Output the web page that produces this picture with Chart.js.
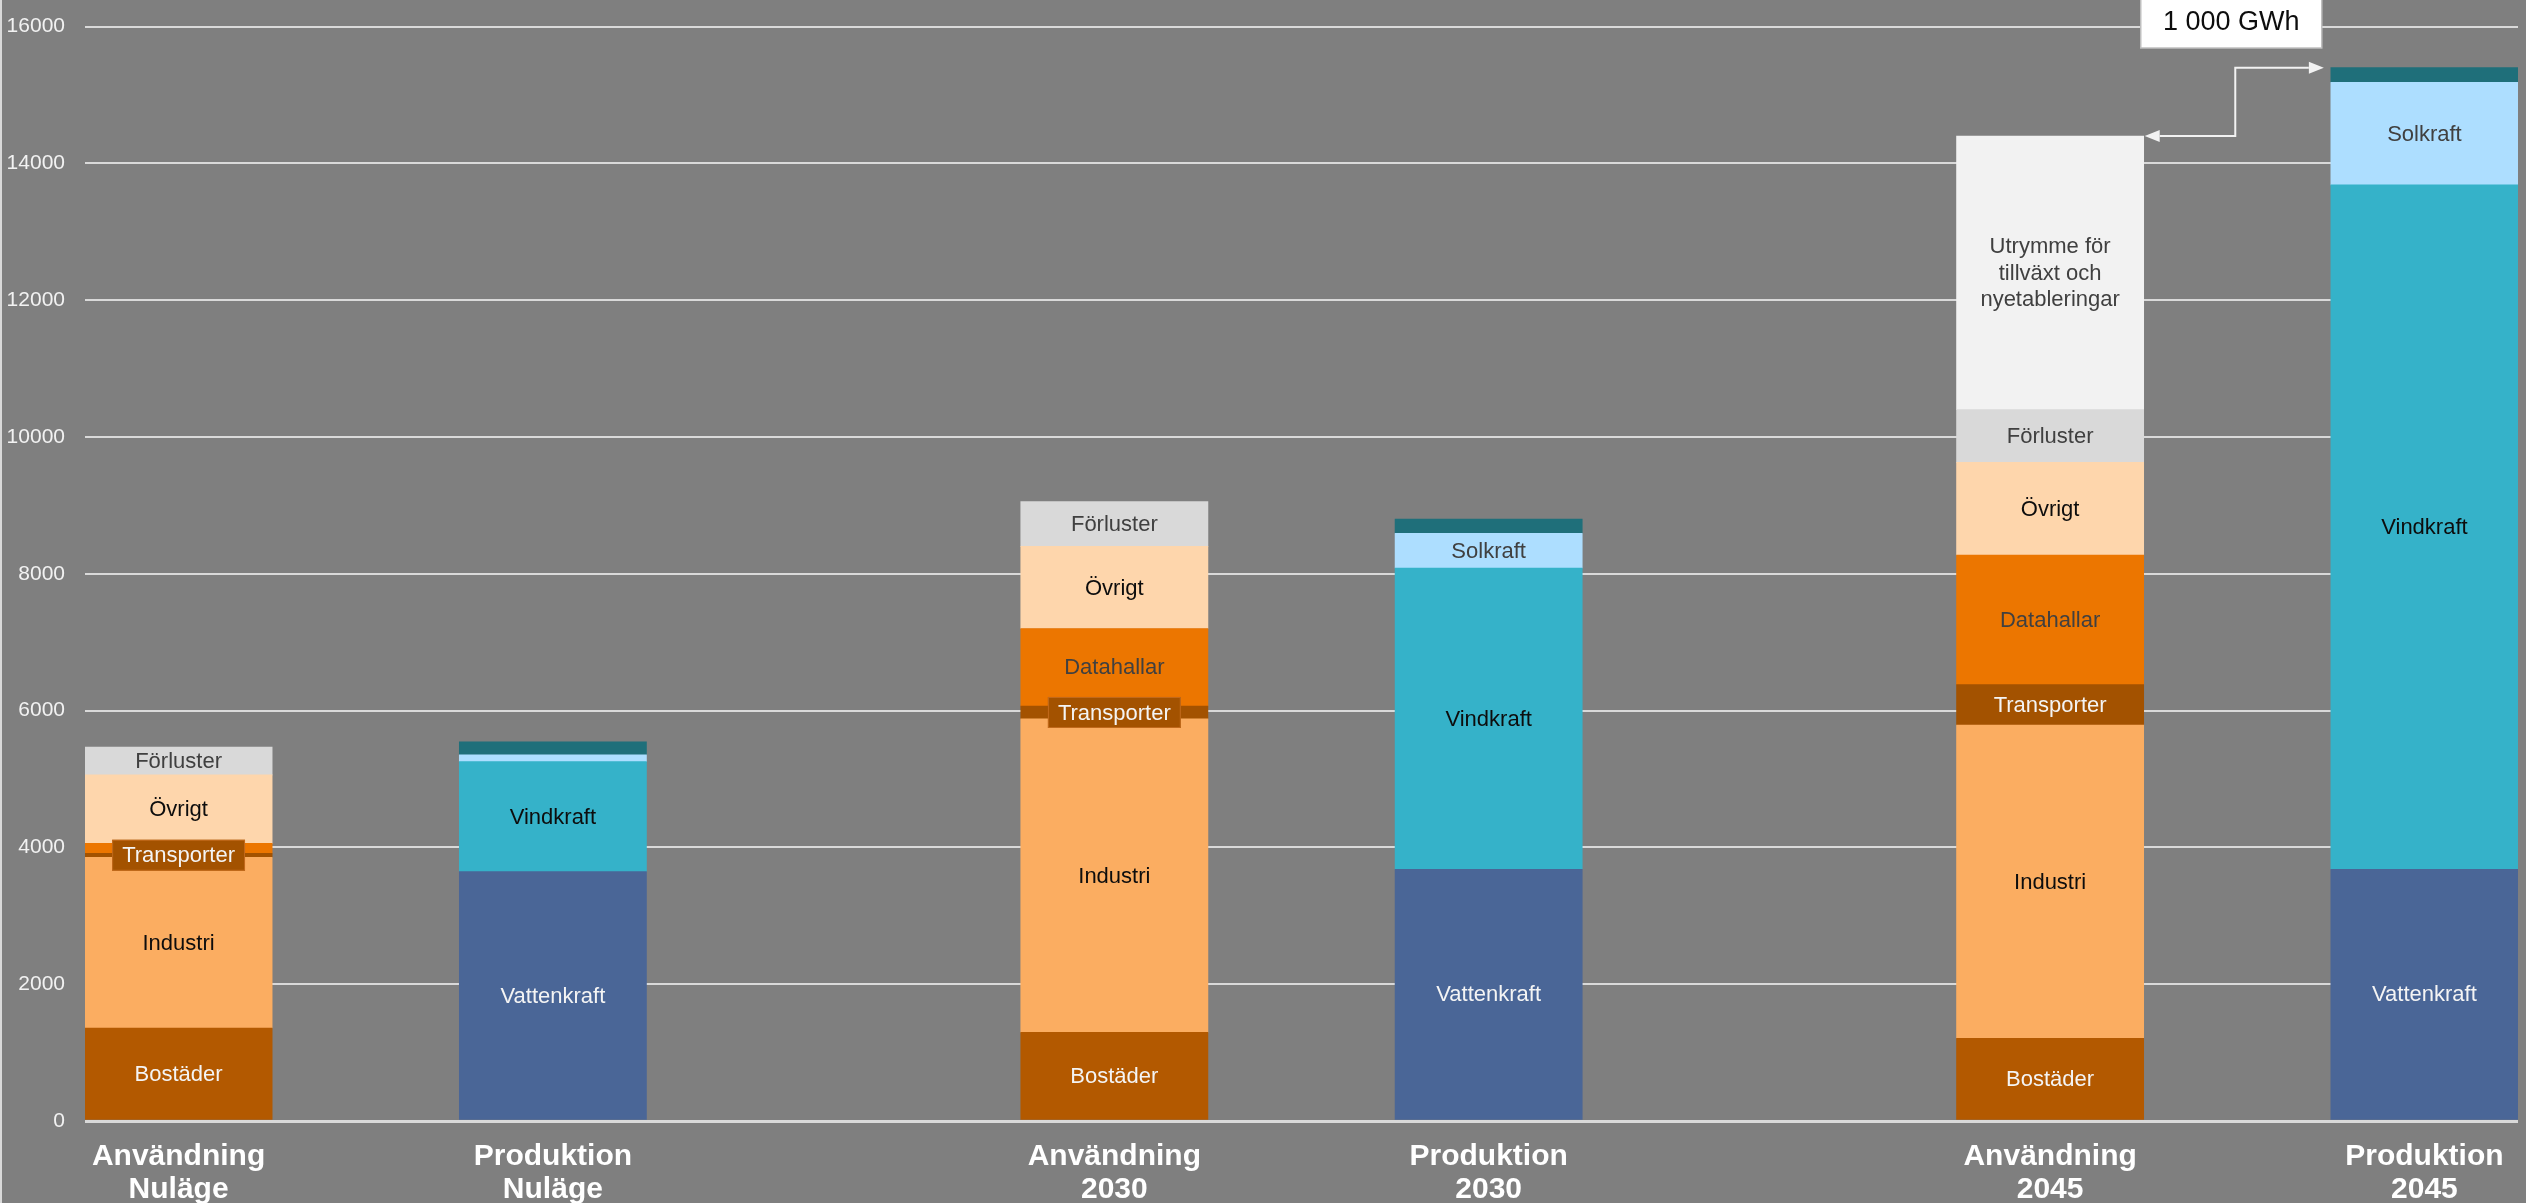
<!DOCTYPE html>
<html lang="sv">
<head>
<meta charset="utf-8">
<title>Elanvändning och elproduktion</title>
<script src="https://cdn.jsdelivr.net/npm/chart.js@4.4.1/dist/chart.umd.min.js"></script>
<style>
    html, body { margin: 0; padding: 0; background: #7f7f7f; overflow: hidden; }
    canvas { display: block; }
</style>
</head>
<body>
<canvas id="elChart" width="2526" height="1203"></canvas>
<script>
// Staplar: användning och produktion (GWh)
const categories = [
    ["Användning", "Nuläge"],
    ["Produktion", "Nuläge"],
    ["Användning", "2030"],
    ["Produktion", "2030"],
    ["Användning", "2045"],
    ["Produktion", "2045"],
];

// Användning
const bostader = [1360, null, 1295, null, 1210, null];
const industri = [2495, null, 4585, null, 4580, null];
const transporter = [60, null, 185, null, 590, null];
const datahallar = [145, null, 1135, null, 1895, null];
const ovrigt = [1000, null, 1200, null, 1355, null];
const forluster = [405, null, 655, null, 770, null];
const utrymme = [null, null, null, null, 4000, null];

// Produktion
const vattenkraft = [null, 3645, null, 3680, null, 3680];
const vindkraft = [null, 1610, null, 4405, null, 10005];
const solkraft = [null, 100, null, 505, null, 1500];
const ovrigProduktion = [null, 190, null, 210, null, 215];

const yTicks = [0, 2000, 4000, 6000, 8000, 10000, 12000, 14000, 16000];

// platser på x-axeln (tomma platser ger mellanrummen)
const slots = [0, 2, 5, 7, 10, 12];
const slotCount = 13;

const FONT = "'Liberation Sans', Arial, Helvetica, sans-serif";

function spread(values) {
    const out = new Array(slotCount).fill(null);
    values.forEach((v, i) => { out[slots[i]] = v; });
    return out;
}

const xLabels = spread(categories).map(l => l || "");

function series(label, values, color, text, textColor, extra) {
    return Object.assign({
        label: label,
        data: spread(values),
        backgroundColor: color,
        borderWidth: 0,
        text: text,
        textColor: textColor,
    }, extra || {});
}

const datasets = [
    series("Bostäder", bostader, "#b35900", "Bostäder", "#f4f4f4"),
    series("Industri", industri, "#fbad61", "Industri", "#0d0d0d"),
    series("Transporter", transporter, "#a35200", "Transporter", "#f4f4f4", { boxed: true }),
    series("Datahallar", datahallar, "#ec7600", "Datahallar", "#404040"),
    series("Övrigt", ovrigt, "#fed6ac", "Övrigt", "#0d0d0d"),
    series("Förluster", forluster, "#d9d9d9", "Förluster", "#404040"),
    series("Utrymme", utrymme, "#f2f2f2", "Utrymme för\ntillväxt och\nnyetableringar", "#404040"),
    series("Vattenkraft", vattenkraft, "#4a6697", "Vattenkraft", "#f4f4f4"),
    series("Vindkraft", vindkraft, "#35b2c9", "Vindkraft", "#0d0d0d"),
    series("Solkraft", solkraft, "#addeff", "Solkraft", "#404040"),
    series("Övrig produktion", ovrigProduktion, "#1f6f7a", null, null),
];

const useSeries = [bostader, industri, transporter, datahallar, ovrigt, forluster, utrymme];
const prodSeries = [vattenkraft, vindkraft, solkraft, ovrigProduktion];

function total(list, i) {
    return list.reduce((s, arr) => s + (arr[i] || 0), 0);
}

// Bakgrund och vänsterkant
const backdrop = {
    id: "backdrop",
    beforeDraw(chart) {
        const ctx = chart.ctx;
        ctx.save();
        ctx.fillStyle = "#7f7f7f";
        ctx.fillRect(0, 0, chart.width, chart.height);
        ctx.fillStyle = "#d9d9d9";
        ctx.fillRect(0, 0, 2, chart.height);
        ctx.restore();
    }
};

// Texter i staplarna
const segmentLabels = {
    id: "segmentLabels",
    afterDatasetsDraw(chart) {
        const ctx = chart.ctx;
        ctx.save();
        ctx.font = "22px " + FONT;
        ctx.textAlign = "center";
        ctx.textBaseline = "middle";
        chart.data.datasets.forEach((ds, i) => {
            if (!ds.text) return;
            const meta = chart.getDatasetMeta(i);
            meta.data.forEach((bar, j) => {
                if (!ds.data[j]) return;
                const h = bar.base - bar.y;
                const cy = (bar.base + bar.y) / 2;
                const lines = ds.text.split("\n");

                if (ds.boxed && h < 32) {
                    const w = ctx.measureText(ds.text).width + 20;
                    ctx.fillStyle = ds.backgroundColor;
                    ctx.fillRect(bar.x - w / 2, cy - 15.5, w, 31);
                    ctx.strokeStyle = "#c26a1c";
                    ctx.lineWidth = 1;
                    ctx.strokeRect(bar.x - w / 2 + 0.5, cy - 15, w - 1, 30);
                } else if (h < 20) {
                    return;
                }

                ctx.fillStyle = ds.textColor;
                const lh = 26.5;
                lines.forEach((line, k) => {
                    ctx.fillText(line, bar.x, cy + (k - (lines.length - 1) / 2) * lh + 1);
                });
            });
        });
        ctx.restore();
    }
};

// Pil mellan användning och produktion 2045
const gapArrow = {
    id: "gapArrow",
    afterDraw(chart) {
        const ctx = chart.ctx;
        const ys = chart.scales.y;
        const useBar = chart.getDatasetMeta(0).data[slots[4]];
        const prodBar = chart.getDatasetMeta(7).data[slots[5]];
        const useTotal = total(useSeries, 4);
        const prodTotal = total(prodSeries, 5);
        const gap = prodTotal - useTotal;

        const x1 = useBar.x + useBar.width / 2 + 1;
        const x2 = prodBar.x - prodBar.width / 2 - 7;
        const xm = (x1 + x2) / 2 + 1;
        const y1 = ys.getPixelForValue(useTotal);
        const y2 = ys.getPixelForValue(prodTotal);
        const head = 15;

        ctx.save();
        ctx.strokeStyle = "#f2f2f2";
        ctx.fillStyle = "#f2f2f2";
        ctx.lineWidth = 2;
        ctx.beginPath();
        ctx.moveTo(x1 + head, y1);
        ctx.lineTo(xm, y1);
        ctx.lineTo(xm, y2);
        ctx.lineTo(x2 - head, y2);
        ctx.stroke();

        ctx.beginPath();
        ctx.moveTo(x1, y1);
        ctx.lineTo(x1 + head, y1 - 6);
        ctx.lineTo(x1 + head, y1 + 6);
        ctx.closePath();
        ctx.fill();

        ctx.beginPath();
        ctx.moveTo(x2, y2);
        ctx.lineTo(x2 - head, y2 - 6);
        ctx.lineTo(x2 - head, y2 + 6);
        ctx.closePath();
        ctx.fill();

        // rutan med skillnaden
        const text = String(gap).replace(/\B(?=(\d{3})+(?!\d))/g, " ") + " GWh";
        const bw = 181, bh = 50;
        const bx = xm - 4 - bw / 2;
        ctx.fillStyle = "#ffffff";
        ctx.fillRect(bx, -2, bw, bh);
        ctx.strokeStyle = "#bfbfbf";
        ctx.lineWidth = 1.5;
        ctx.strokeRect(bx, -2, bw, bh);
        ctx.fillStyle = "#0d0d0d";
        ctx.font = "27px " + FONT;
        ctx.textAlign = "center";
        ctx.textBaseline = "middle";
        ctx.fillText(text, bx + bw / 2, 23);
        ctx.restore();
    }
};

Chart.defaults.font.family = FONT;

new Chart(document.getElementById("elChart"), {
    type: "bar",
    data: {
        labels: xLabels,
        datasets: datasets,
    },
    options: {
        responsive: false,
        devicePixelRatio: 1,
        animation: false,
        events: [],
        layout: {
            padding: { top: 0, right: 8, left: 0, bottom: 0 },
        },
        datasets: {
            bar: {
                categoryPercentage: 1.0,
                barPercentage: 1.0,
                skipNull: true,
            },
        },
        plugins: {
            legend: { display: false },
            tooltip: { enabled: false },
        },
        scales: {
            x: {
                stacked: true,
                grid: { display: false },
                border: { display: false },
                afterFit: (scale) => {
                    scale.height = 82;
                },
                ticks: {
                    autoSkip: false,
                    maxRotation: 0,
                    padding: 11,
                    color: "#ffffff",
                    font: { size: 30, weight: "bold", lineHeight: 1.1 },
                },
            },
            y: {
                stacked: true,
                min: 0,
                max: 16000,
                afterBuildTicks: (scale) => {
                    scale.ticks = yTicks.map(v => ({ value: v }));
                },
                afterFit: (scale) => {
                    scale.width = 85;
                },
                grid: {
                    color: "#d9d9d9",
                    lineWidth: (c) => (c.tick && c.tick.value === 0 ? 3 : 2),
                    drawTicks: true,
                    tickLength: 6,
                    tickColor: "rgba(0,0,0,0)",
                },
                border: { display: false },
                ticks: {
                    padding: 14,
                    color: "#f2f2f2",
                    font: { size: 21 },
                    callback: (v) => String(v),
                },
            },
        },
    },
    plugins: [backdrop, segmentLabels, gapArrow],
});
</script>
</body>
</html>
